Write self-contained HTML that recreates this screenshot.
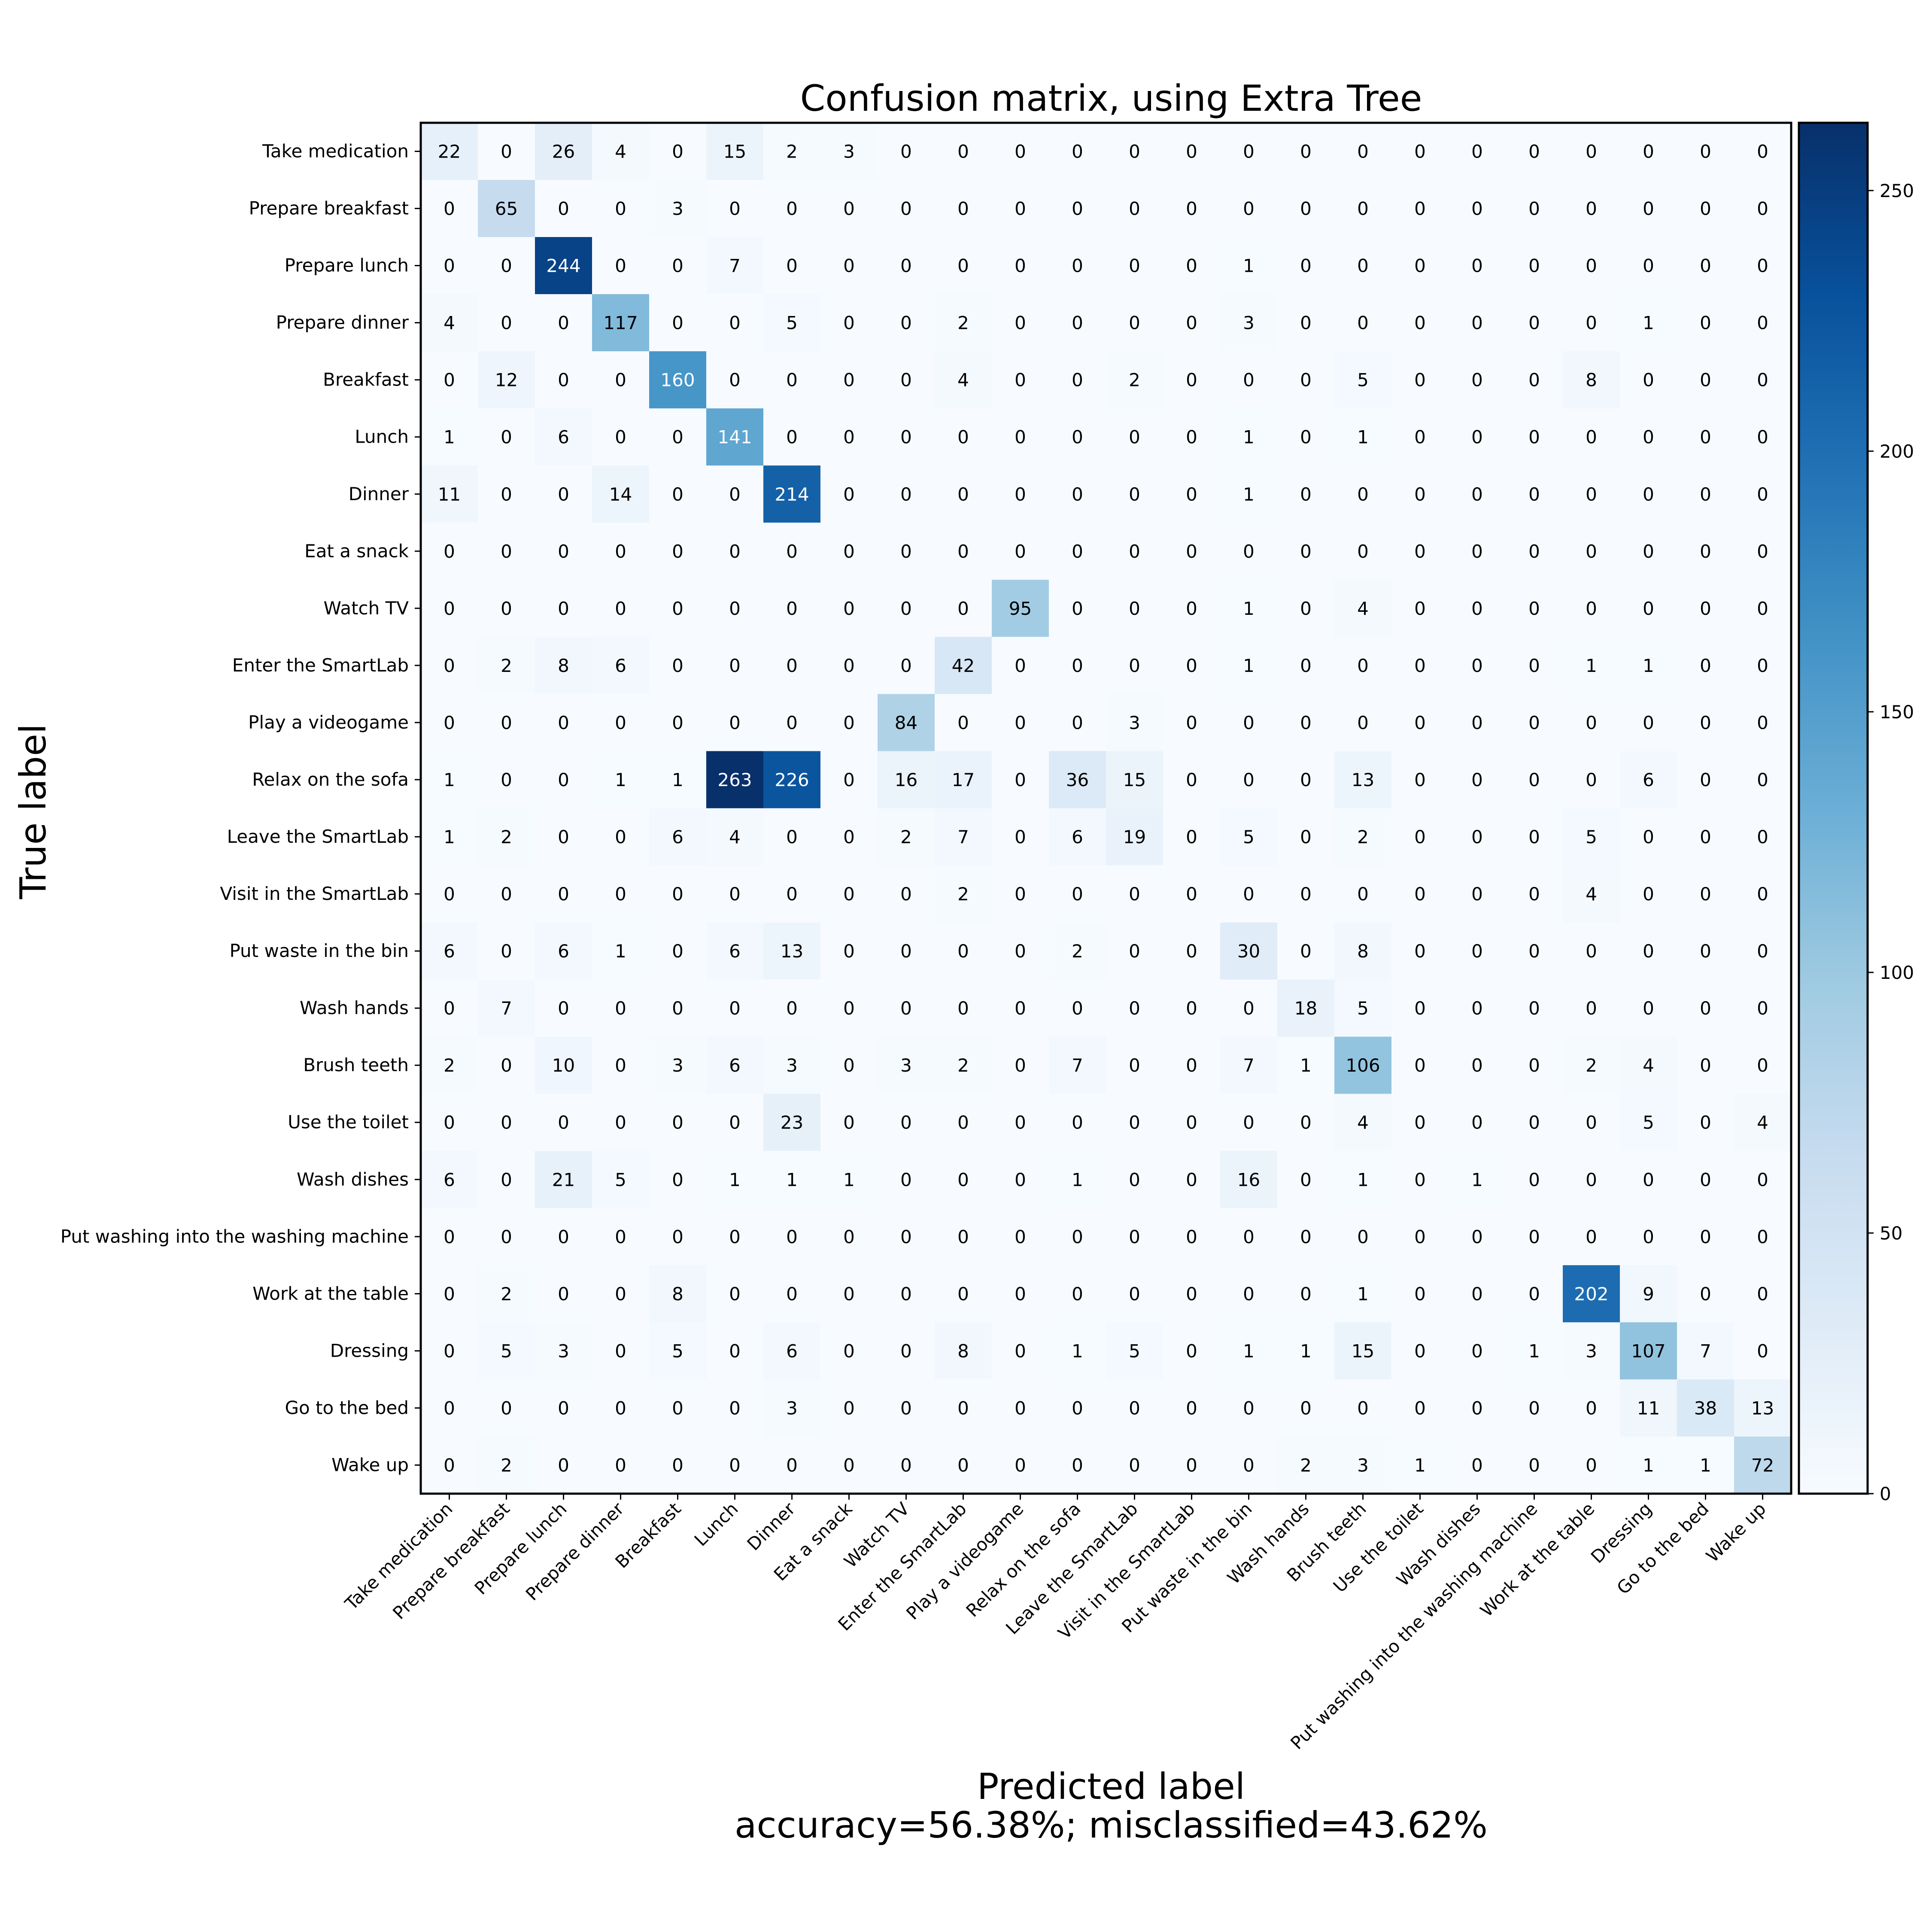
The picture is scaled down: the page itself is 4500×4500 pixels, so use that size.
<!DOCTYPE html>
<html><head><meta charset="utf-8"><style>html,body{margin:0;padding:0;background:#fff}svg{display:block}text{font-family:"DejaVu Sans","Liberation Sans",sans-serif}</style></head>
<body>
<svg id="chart" width="4500" height="4500" viewBox="0 0 4500 4500" xmlns="http://www.w3.org/2000/svg">
<defs><linearGradient id="cbg" x1="0" y1="1" x2="0" y2="0">
<stop offset="0" stop-color="#f7fbff"/><stop offset="0.125" stop-color="#deebf7"/><stop offset="0.25" stop-color="#c6dbef"/><stop offset="0.375" stop-color="#9ecae1"/><stop offset="0.5" stop-color="#6baed6"/><stop offset="0.625" stop-color="#4292c6"/><stop offset="0.75" stop-color="#2171b5"/><stop offset="0.875" stop-color="#08519c"/><stop offset="1" stop-color="#08306b"/></linearGradient></defs>
<text x="2588" y="258" font-size="84" text-anchor="middle">Confusion matrix, using Extra Tree</text>
<text transform="translate(106,1890) rotate(-90)" font-size="84" text-anchor="middle">True label</text>
<text x="2588" y="4190" font-size="84" text-anchor="middle">Predicted label</text>
<text x="2588" y="4280" font-size="84" text-anchor="middle">accuracy=56.38%; misclassified=43.62%</text>
<g id="cells"></g><g id="labels"></g><g id="cbar"></g>
</svg>
<script>
const categories=["Take medication","Prepare breakfast","Prepare lunch","Prepare dinner","Breakfast","Lunch","Dinner","Eat a snack","Watch TV","Enter the SmartLab","Play a videogame","Relax on the sofa","Leave the SmartLab","Visit in the SmartLab","Put waste in the bin","Wash hands","Brush teeth","Use the toilet","Wash dishes","Put washing into the washing machine","Work at the table","Dressing","Go to the bed","Wake up"];
const matrix=[
[22,0,26,4,0,15,2,3,0,0,0,0,0,0,0,0,0,0,0,0,0,0,0,0],
[0,65,0,0,3,0,0,0,0,0,0,0,0,0,0,0,0,0,0,0,0,0,0,0],
[0,0,244,0,0,7,0,0,0,0,0,0,0,0,1,0,0,0,0,0,0,0,0,0],
[4,0,0,117,0,0,5,0,0,2,0,0,0,0,3,0,0,0,0,0,0,1,0,0],
[0,12,0,0,160,0,0,0,0,4,0,0,2,0,0,0,5,0,0,0,8,0,0,0],
[1,0,6,0,0,141,0,0,0,0,0,0,0,0,1,0,1,0,0,0,0,0,0,0],
[11,0,0,14,0,0,214,0,0,0,0,0,0,0,1,0,0,0,0,0,0,0,0,0],
[0,0,0,0,0,0,0,0,0,0,0,0,0,0,0,0,0,0,0,0,0,0,0,0],
[0,0,0,0,0,0,0,0,0,0,95,0,0,0,1,0,4,0,0,0,0,0,0,0],
[0,2,8,6,0,0,0,0,0,42,0,0,0,0,1,0,0,0,0,0,1,1,0,0],
[0,0,0,0,0,0,0,0,84,0,0,0,3,0,0,0,0,0,0,0,0,0,0,0],
[1,0,0,1,1,263,226,0,16,17,0,36,15,0,0,0,13,0,0,0,0,6,0,0],
[1,2,0,0,6,4,0,0,2,7,0,6,19,0,5,0,2,0,0,0,5,0,0,0],
[0,0,0,0,0,0,0,0,0,2,0,0,0,0,0,0,0,0,0,0,4,0,0,0],
[6,0,6,1,0,6,13,0,0,0,0,2,0,0,30,0,8,0,0,0,0,0,0,0],
[0,7,0,0,0,0,0,0,0,0,0,0,0,0,0,18,5,0,0,0,0,0,0,0],
[2,0,10,0,3,6,3,0,3,2,0,7,0,0,7,1,106,0,0,0,2,4,0,0],
[0,0,0,0,0,0,23,0,0,0,0,0,0,0,0,0,4,0,0,0,0,5,0,4],
[6,0,21,5,0,1,1,1,0,0,0,1,0,0,16,0,1,0,1,0,0,0,0,0],
[0,0,0,0,0,0,0,0,0,0,0,0,0,0,0,0,0,0,0,0,0,0,0,0],
[0,2,0,0,8,0,0,0,0,0,0,0,0,0,0,0,1,0,0,0,202,9,0,0],
[0,5,3,0,5,0,6,0,0,8,0,1,5,0,1,1,15,0,0,1,3,107,7,0],
[0,0,0,0,0,0,3,0,0,0,0,0,0,0,0,0,0,0,0,0,0,11,38,13],
[0,2,0,0,0,0,0,0,0,0,0,0,0,0,0,2,3,1,0,0,0,1,1,72]];
const cbTicks=[0,50,100,150,200,250];

const NS="http://www.w3.org/2000/svg";
const L=980,T=286,R=4172,B=3479,n=categories.length,cw=(R-L)/n,ch=(B-T)/n;
let vmax=0;matrix.forEach(r=>r.forEach(v=>{if(v>vmax)vmax=v;}));
const stops=["#f7fbff","#deebf7","#c6dbef","#9ecae1","#6baed6","#4292c6","#2171b5","#08519c","#08306b"].map(h=>[1,3,5].map(i=>parseInt(h.substr(i,2),16)));
function color(v){let t=Math.max(0,Math.min(1,v/vmax))*8;let i=Math.min(7,Math.floor(t)),f=t-i;const c=stops[i].map((a,k)=>Math.round(a+(stops[i+1][k]-a)*f));return `rgb(${c})`;}
function xs(j){return L+j*cw;} function ys(i){return T+i*ch;}
function mk(tag,attrs,parent){const e=document.createElementNS(NS,tag);for(const k in attrs)e.setAttribute(k,attrs[k]);parent.appendChild(e);return e;}
const cells=document.getElementById('cells'),labels=document.getElementById('labels'),cbar=document.getElementById('cbar');
matrix.forEach((row,i)=>row.forEach((v,j)=>{
 const r=mk('rect',{x:xs(j),y:ys(i),width:cw+0.5,height:ch+0.5,fill:color(v)},cells);
 
 
 const t=mk('text',{x:xs(j)+cw/2,y:ys(i)+ch/2+15,'font-size':42,'text-anchor':'middle',fill:v>vmax/2?'#fff':'#000'},cells);
 
 
 t.textContent=v;
}));
const frame=mk('rect',{x:L,y:T,width:R-L,height:B-T,fill:'none',stroke:'#000','stroke-width':5},labels);


categories.forEach((c,i)=>{
 const y=ys(i)+ch/2;
 mk('line',{x1:L-14,x2:L,y1:y,y2:y,stroke:'#000','stroke-width':3},labels);
 const t=mk('text',{x:L-28,y:y+14,'font-size':42,'text-anchor':'end'},labels);
 
 
 t.textContent=c;
 const x=xs(i)+cw/2;
 mk('line',{x1:x,x2:x,y1:B,y2:B+14,stroke:'#000','stroke-width':3},labels);
 const tx=mk('text',{transform:`translate(${x+10},${B+38}) rotate(-45)`,'font-size':41,'text-anchor':'end'},labels);
 
 
 tx.textContent=c;
});
const CL=4190,CR=4350;
const cb=mk('rect',{x:CL,y:T,width:CR-CL,height:B-T,fill:'url(#cbg)',stroke:'#000','stroke-width':5},cbar);


cbTicks.forEach(v=>{
 const y=B-(v/vmax)*(B-T);
 mk('line',{x1:CR,x2:CR+14,y1:y,y2:y,stroke:'#000','stroke-width':3},cbar);
 const t=mk('text',{x:CR+28,y:y+15,'font-size':42},cbar);
 
 
 t.textContent=v;
});
</script>
</body></html>
